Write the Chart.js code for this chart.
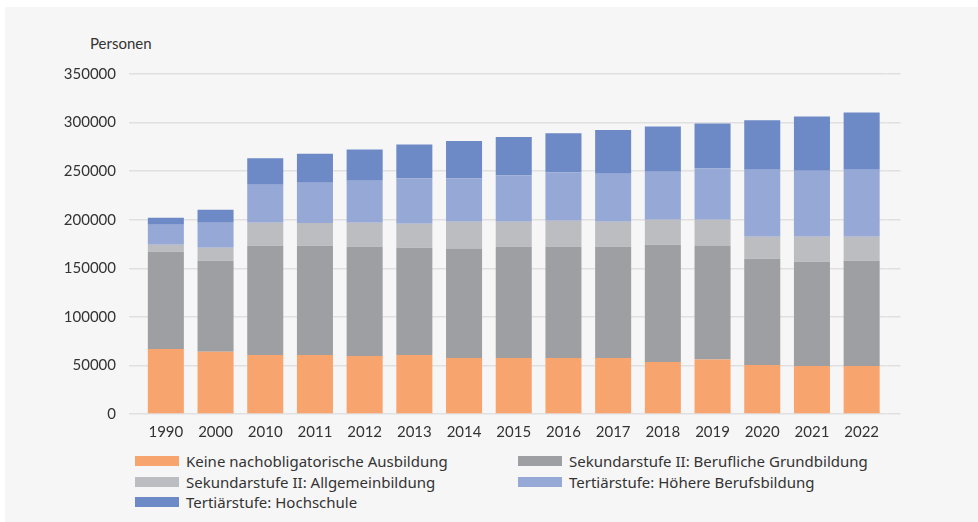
<!DOCTYPE html>
<html>
<head>
<meta charset="utf-8">
<script src="https://cdn.jsdelivr.net/npm/chart.js@4.4.1/dist/chart.umd.min.js"></script>
<style>
    html, body { margin: 0; padding: 0; background: #fff; }
    body { width: 978px; height: 522px; position: relative; overflow: hidden; font-family: Lato, sans-serif; color: #333; }
    #panel { position: absolute; left: 5px; top: 7px; right: 0; bottom: 0; background: #f6f6f6; }
    #wrap { position: absolute; left: 0; top: 0; width: 978px; height: 450px; }
    #unit { position: absolute; left: 90px; top: 34px; font-size: 15px; line-height: 18px; }
    #legend { position: absolute; left: 135px; top: 451px; display: grid; grid-template-columns: 383px 400px; grid-auto-rows: 20.5px; font-family: "Noto Sans", sans-serif; font-size: 15px; }
    .item { display: flex; align-items: center; white-space: nowrap; }
    .swatch { width: 44px; height: 10px; margin-right: 7px; flex: none; }
</style>
</head>
<body>
<div id="panel"></div>
<div id="unit">Personen</div>
<div id="wrap"><canvas id="eduChart"></canvas></div>
<div id="legend"></div>
<script>
const years = ['1990', '2000', '2010', '2011', '2012', '2013', '2014', '2015', '2016', '2017', '2018', '2019', '2020', '2021', '2022'];
const keine = [67000, 64000, 60800, 60800, 59800, 60800, 57700, 57700, 57700, 57700, 53600, 56000, 50500, 49500, 49500];
const beruflich = [100000, 93700, 112400, 112400, 112400, 110300, 112700, 114500, 114500, 114500, 120600, 117500, 109300, 107200, 108200];
const allgemein = [7200, 13400, 23700, 23400, 24700, 24800, 27500, 25700, 26800, 25700, 25800, 26500, 22700, 25800, 24800];
const hoehere = [20600, 25800, 39200, 41500, 43300, 46400, 44400, 47500, 49500, 49500, 49500, 52600, 69000, 68000, 69000];
const hochschule = [7200, 13400, 27100, 29900, 32000, 35000, 38800, 39800, 40500, 45000, 46400, 46400, 50900, 55700, 58800];

const series = [
    { label: 'Keine nachobligatorische Ausbildung', data: keine, color: '#f8a46f' },
    { label: 'Sekundarstufe II: Berufliche Grundbildung', data: beruflich, color: '#9e9fa3' },
    { label: 'Sekundarstufe II: Allgemeinbildung', data: allgemein, color: '#bcbdc0' },
    { label: 'Tertiärstufe: Höhere Berufsbildung', data: hoehere, color: '#96a8d5' },
    { label: 'Tertiärstufe: Hochschule', data: hochschule, color: '#6d89c6' }
];

const gridColor = '#e0e0e0';
const tickFont = { family: 'Lato', size: 15 };

const ctx = document.getElementById('eduChart').getContext('2d');
const eduChart = new Chart(ctx, {
    type: 'bar',
    data: {
        labels: years,
        datasets: series.map(s => ({
            label: s.label,
            data: s.data,
            backgroundColor: s.color,
            barPercentage: 0.725,
            categoryPercentage: 1
        }))
    },
    options: {
        responsive: true,
        maintainAspectRatio: false,
        animation: false,
        layout: { padding: { top: 74, right: 77.5, bottom: 9, left: 0 } },
        plugins: {
            legend: { display: false },
            tooltip: { enabled: false }
        },
        scales: {
            x: {
                stacked: true,
                afterFit: scale => { scale.height = 27; },
                grid: { display: false, drawTicks: false },
                border: { display: false },
                ticks: { color: '#333', font: tickFont, padding: 9 }
            },
            y: {
                stacked: true,
                min: 0,
                max: 350000,
                afterFit: scale => { scale.width = 141; },
                grid: { color: gridColor, lineWidth: 1.5, tickLength: 12, tickColor: gridColor },
                border: { display: false },
                ticks: { stepSize: 50000, color: '#333', font: tickFont, padding: 13, callback: v => String(v) }
            },
            // empty axis on the right, only so the grid runs a bit past the last bar
            y2: {
                position: 'right',
                min: 0,
                max: 350000,
                grid: { drawOnChartArea: false, color: gridColor, lineWidth: 1.5, tickLength: 14, tickColor: gridColor },
                border: { display: false },
                ticks: { display: false, stepSize: 50000 }
            }
        }
    }
});

// legend in two columns, like the original
const legend = document.getElementById('legend');
series.forEach(s => {
    const item = document.createElement('div');
    item.className = 'item';
    const sw = document.createElement('span');
    sw.className = 'swatch';
    sw.style.background = s.color;
    item.appendChild(sw);
    item.appendChild(document.createTextNode(s.label));
    legend.appendChild(item);
});
</script>
</body>
</html>
